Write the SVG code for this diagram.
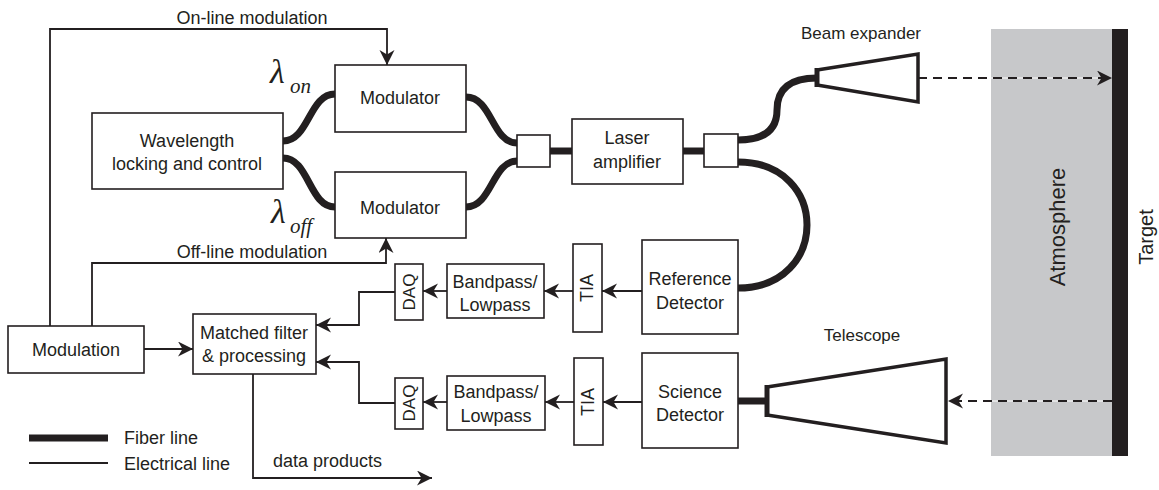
<svg xmlns="http://www.w3.org/2000/svg" width="1159" height="490" viewBox="0 0 1159 490">
<defs>
<marker id="ah" markerUnits="userSpaceOnUse" markerWidth="17" markerHeight="17" refX="15" refY="7.5" orient="auto">
<path d="M0,0 L15,7.5 L0,15 L4.5,7.5 z" fill="#231f20"/>
</marker>
<style>
text{font-family:"Liberation Sans",Arial,sans-serif;fill:#231f20;font-size:18px}
.c{text-anchor:middle}
.box{fill:#fff;stroke:#231f20;stroke-width:1.6}
.fiber{fill:none;stroke:#231f20;stroke-width:7}
.elec{fill:none;stroke:#231f20;stroke-width:1.8}
.arr{marker-end:url(#ah)}
.dash{fill:none;stroke:#231f20;stroke-width:2.2;stroke-dasharray:9,6}
.optic{fill:#fff;stroke:#231f20;stroke-width:3.5;stroke-linejoin:miter}
.lam{font-family:"Liberation Serif","Times New Roman",serif;font-style:italic}
</style>
</defs>
<rect id="atmosphere" x="991" y="29" width="121" height="427" fill="#c7c8ca"/>
<rect id="target" x="1112" y="29" width="16" height="427" fill="#231f20"/>
<text class="c" transform="translate(1065,227) rotate(-90)" style="font-size:22px">Atmosphere</text>
<text class="c" transform="translate(1153,237) rotate(-90)" style="font-size:20px">Target</text>

<g id="connectors">
<path class="fiber" d="M283,141 C309,141 309,94 335,94"/>
<path class="fiber" d="M283,158 C309,158 309,207 335,207"/>
<path class="fiber" d="M466,97 C492,97 492,143 517,143"/>
<path class="fiber" d="M466,207 C492,207 492,161 517,161"/>
<path class="fiber" d="M550,151 H572"/>
<path class="fiber" d="M683,151 H704"/>
<path class="fiber" d="M738,140 Q777,140 777,110 Q777,78 817,78"/>
<path class="fiber" d="M738,162 C830,162 830,288 738,288"/>
<path class="fiber" d="M738,401 H767"/>
<path class="elec arr" d="M50,326 V29 H387 V65"/>
<path class="elec arr" d="M92,326 V263 H386 V238"/>
<path class="elec arr" d="M144,349 H193"/>
<path class="elec arr" d="M642,291 H602"/>
<path class="elec arr" d="M573,291 H544"/>
<path class="elec arr" d="M447,291 H423"/>
<path class="elec arr" d="M395,292 H359 V325 H316"/>
<path class="elec arr" d="M642,402 H603"/>
<path class="elec arr" d="M574,402 H545"/>
<path class="elec arr" d="M447,402 H423"/>
<path class="elec arr" d="M395,403 H359 V362 H316"/>
<path class="elec arr" d="M253,374 V478 H432"/>
<path d="M991,78 H1110 M991,401 H1112" stroke="#fff" stroke-width="1"/>
<path class="dash arr" d="M918,78 H1112"/>
<path class="dash arr" d="M1112,401 H948"/>
</g>

<text class="c" x="252" y="24">On-line modulation</text>
<text class="c" x="252" y="258">Off-line modulation</text>

<g id="wavelength"><rect class="box" x="92" y="113" width="191" height="76"/>
<text class="c" x="187" y="147">Wavelength</text><text class="c" x="187" y="170">locking and control</text></g>
<g id="lambda-on"><text class="lam" x="270" y="83" style="font-size:34px">λ<tspan x="290" y="93" style="font-size:21px">on</tspan></text></g>
<g id="lambda-off"><text class="lam" x="271" y="223" style="font-size:34px">λ<tspan x="290" y="233" style="font-size:21px">off</tspan></text></g>
<g id="modulator-on"><rect class="box" x="335" y="65" width="131" height="67"/><text class="c" x="400" y="104">Modulator</text></g>
<g id="modulator-off"><rect class="box" x="335" y="172" width="131" height="66"/><text class="c" x="400" y="214">Modulator</text></g>
<g id="coupler1"><rect class="box" x="517" y="135" width="33" height="32"/></g>
<g id="amplifier"><rect class="box" x="572" y="119" width="111" height="65"/>
<text class="c" x="627" y="144">Laser</text><text class="c" x="627" y="168">amplifier</text></g>
<g id="coupler2"><rect class="box" x="704" y="134" width="34" height="33"/></g>
<g id="beam-expander"><polygon class="optic" points="817,70 918,54 918,102 817,85"/>
<path d="M817,68 V87" stroke="#231f20" stroke-width="5"/>
<text class="c" x="861" y="39" style="font-size:17px">Beam expander</text></g>
<g id="telescope"><polygon class="optic" points="767,387 946,359 946,443 767,415"/>
<path d="M767,385 V417" stroke="#231f20" stroke-width="5"/>
<text class="c" x="862" y="341" style="font-size:17px">Telescope</text></g>

<g id="ref-detector"><rect class="box" x="642" y="240" width="96" height="94"/>
<text class="c" x="690" y="285">Reference</text><text class="c" x="690" y="309">Detector</text></g>
<g id="tia1"><rect class="box" x="573" y="244" width="29" height="88"/><text class="c" transform="translate(593,288) rotate(-90)">TIA</text></g>
<g id="bp1"><rect class="box" x="447" y="264" width="97" height="54"/>
<text class="c" x="495" y="288">Bandpass/</text><text class="c" x="495" y="311">Lowpass</text></g>
<g id="daq1"><rect class="box" x="395" y="264" width="28" height="56"/><text class="c" transform="translate(415,292) rotate(-90)" style="font-size:17px">DAQ</text></g>

<g id="sci-detector"><rect class="box" x="642" y="353" width="96" height="95"/>
<text class="c" x="690" y="398">Science</text><text class="c" x="690" y="421">Detector</text></g>
<g id="tia2"><rect class="box" x="574" y="358" width="29" height="87"/><text class="c" transform="translate(594,402) rotate(-90)">TIA</text></g>
<g id="bp2"><rect class="box" x="447" y="376" width="98" height="54"/>
<text class="c" x="496" y="398">Bandpass/</text><text class="c" x="496" y="422">Lowpass</text></g>
<g id="daq2"><rect class="box" x="395" y="378" width="28" height="51"/><text class="c" transform="translate(415,403) rotate(-90)" style="font-size:17px">DAQ</text></g>

<g id="matched-filter"><rect class="box" x="193" y="314" width="123" height="60"/>
<text class="c" x="254" y="339">Matched filter</text><text class="c" x="254" y="362">&amp; processing</text></g>
<g id="modulation"><rect class="box" x="8" y="326" width="136" height="47"/><text class="c" x="76" y="356">Modulation</text></g>
<text x="273" y="467">data products</text>

<g id="legend">
<path d="M29,438 H108" stroke="#231f20" stroke-width="7"/>
<path d="M29,463 H108" stroke="#231f20" stroke-width="1.8"/>
<text x="124" y="444">Fiber line</text>
<text x="124" y="470">Electrical line</text>
</g>
</svg>
